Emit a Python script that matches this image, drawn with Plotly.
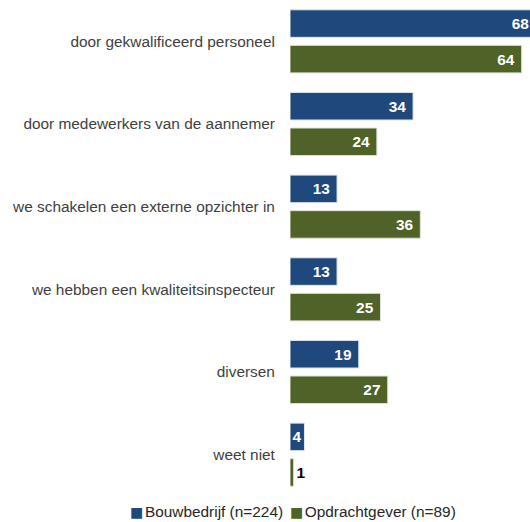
import plotly.graph_objects as go

categories = [
    "door gekwalificeerd personeel",
    "door medewerkers van de aannemer",
    "we schakelen een externe opzichter in",
    "we hebben een kwaliteitsinspecteur",
    "diversen",
    "weet niet",
]
series_names = ["Bouwbedrijf (n=224)", "Opdrachtgever (n=89)"]
bouwbedrijf = [68, 34, 13, 13, 19, 4]
opdrachtgever = [64, 24, 36, 25, 27, 1]

BLUE = "#1F497D"
GREEN = "#4F6228"
FONT = "Liberation Sans, Arial, sans-serif"
SIZE = 15.4


def label_positions(values, threshold=3):
    return ["inside" if v >= threshold else "outside" for v in values]


def label_templates(values):
    # wider bars get a little extra right padding after the number
    return ["<b>%{x}</b>\u00a0" if v >= 10 else "<b>%{x}</b>" for v in values]


fig = go.Figure()
for name, values, color, edge in [
    (series_names[0], bouwbedrijf, BLUE, "#dfe6ee"),
    (series_names[1], opdrachtgever, GREEN, "#dfe3d8"),
]:
    fig.add_trace(go.Bar(
        name=name,
        y=categories, x=values, orientation="h",
        marker=dict(color=color, line=dict(color=edge, width=1)),
        text=values, textposition=label_positions(values),
        insidetextanchor="end",
        insidetextfont=dict(color="white", size=SIZE, family=FONT),
        outsidetextfont=dict(color="black", size=SIZE, family=FONT),
        texttemplate=label_templates(values),
        constraintext="none",
        showlegend=False,
    ))


def swatch(color):
    return (f"<span style='font-family:DejaVu Sans;font-size:14px;color:{color}'>■</span>"
            "<span style='font-size:6px'>\u00a0</span>")


# legend line drawn as text with coloured square markers
legend_text = (
    f"{swatch(BLUE)}{series_names[0]}<span style='font-size:9px'>\u00a0</span> "
    f"{swatch(GREEN)}{series_names[1]}"
)
fig.add_annotation(
    text=legend_text, xref="paper", yref="paper",
    x=0.0125, y=-0.031, xanchor="center", yanchor="middle",
    showarrow=False, font=dict(size=SIZE, color="#262626", family=FONT),
)

fig.update_layout(
    width=530, height=522,
    margin=dict(l=290, r=0, t=0, b=26),
    paper_bgcolor="white", plot_bgcolor="white",
    barmode="group", bargap=0.14, bargroupgap=0.225,
    font=dict(family=FONT, size=SIZE, color="#404040"),
    xaxis=dict(range=[0, 66.3], visible=False, fixedrange=True),
    yaxis=dict(
        autorange="reversed", showline=False, showgrid=False,
        ticks="outside", ticklen=11, tickcolor="rgba(0,0,0,0)",
        tickfont=dict(size=SIZE, color="#404040", family=FONT),
        fixedrange=True,
    ),
)

fig.write_html("out.html")
